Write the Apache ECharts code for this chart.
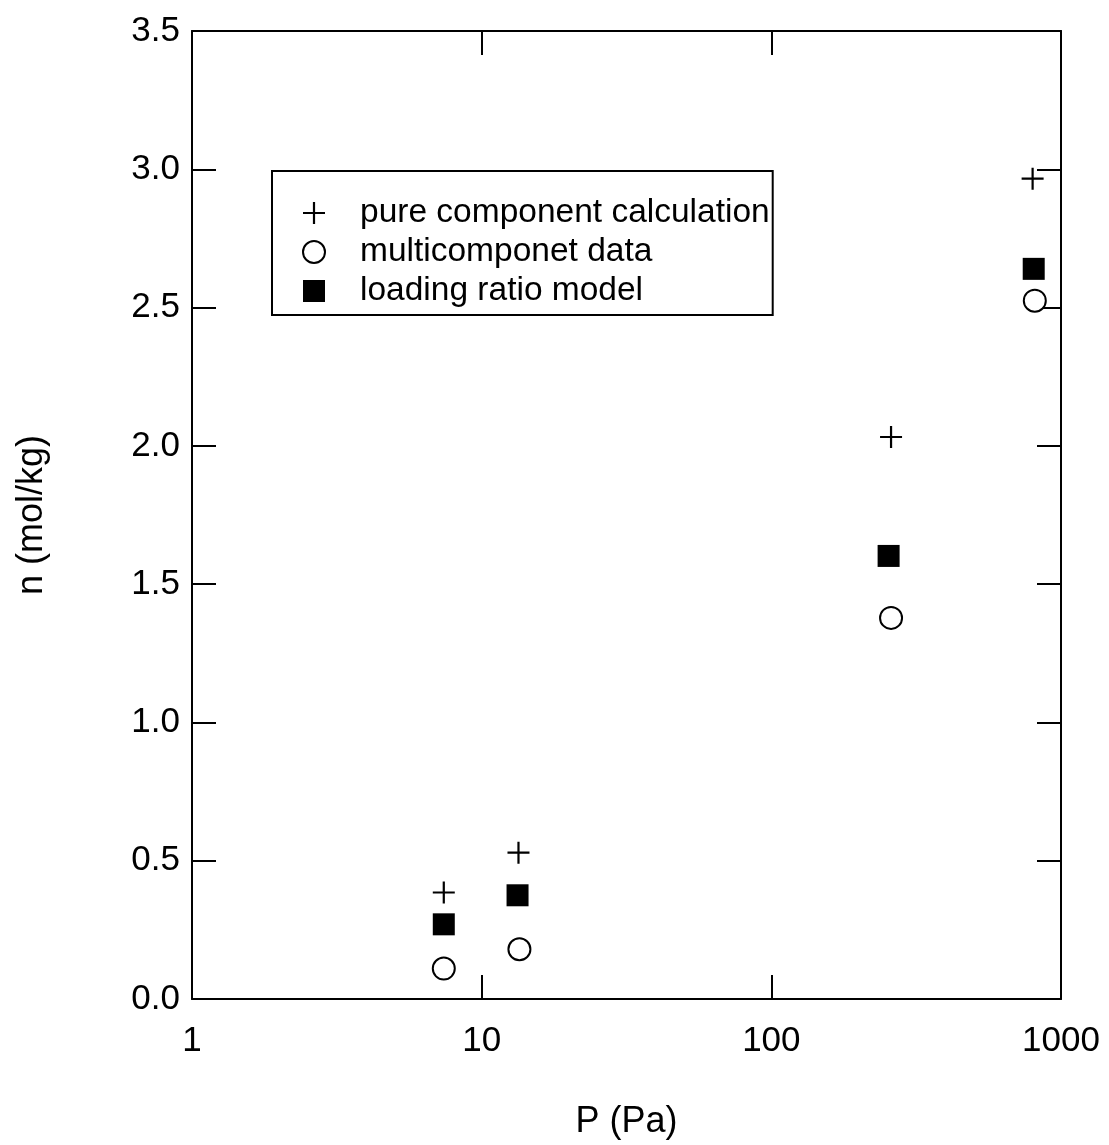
<!DOCTYPE html>
<html>
<head>
<meta charset="utf-8">
<script src="https://cdn.jsdelivr.net/npm/echarts@6/dist/echarts.min.js"></script>
<style>
html,body{margin:0;padding:0;background:#fff;}
#chart{width:1109px;height:1145px;}
</style>
</head>
<body>
<div id="chart"></div>
<script>
// Data
var seriesNames = ['pure component calculation', 'multicomponet data', 'loading ratio model'];
var pureP = [7.4, 13.4, 259, 798];
var pureN = [0.385, 0.529, 2.032, 2.966];
var multiP = [7.4, 13.5, 259, 812];
var multiN = [0.110, 0.180, 1.378, 2.525];
var modelP = [7.4, 13.3, 254, 805];
var modelN = [0.270, 0.375, 1.602, 2.640];
var xTicks = [1, 10, 100, 1000];
var yTicks = [0.0, 0.5, 1.0, 1.5, 2.0, 2.5, 3.0, 3.5];

function pairs(xs, ys) { return xs.map(function (x, i) { return [x, ys[i]]; }); }

var FONT = 'Liberation Sans, Arial, sans-serif';
var PLUS = 'path://M9,0 H11 V9 H20 V11 H11 V20 H9 V11 H0 V9 H9 Z';

function axisLine() { return { show: true, onZero: false, lineStyle: { color: '#000', width: 2 } }; }
function ticks(vals) {
  return { show: true, inside: true, length: 24, customValues: vals, lineStyle: { color: '#000', width: 2 } };
}

var chart = echarts.init(document.getElementById('chart'), null, { renderer: 'canvas' });
chart.setOption({
  backgroundColor: '#fff',
  animation: false,
  grid: { left: 192, right: 48, top: 31, bottom: 145, containLabel: false },
  legend: {
    left: 272, top: 171,
    orient: 'vertical',
    backgroundColor: '#fff',
    borderColor: '#000', borderWidth: 2, borderRadius: 0,
    padding: [25, 3, 7, 30],
    itemWidth: 22, itemHeight: 22, itemGap: 5,
    textStyle: { fontFamily: FONT, fontSize: 33.5, color: '#000', padding: [0, 0, 0, 30] },
    data: seriesNames
  },
  xAxis: [
    {
      type: 'log', logBase: 10, min: 1, max: 1000, position: 'bottom',
      name: 'P (Pa)', nameLocation: 'middle', nameGap: 105,
      nameTextStyle: { fontFamily: FONT, fontSize: 36, color: '#000' },
      axisLine: axisLine(),
      axisTick: ticks(xTicks),
      minorTick: { show: false },
      splitLine: { show: false },
      axisLabel: { fontFamily: FONT, fontSize: 35, color: '#000', margin: 25, customValues: xTicks,
        formatter: function (v) { return String(Math.round(v)); } }
    },
    {
      type: 'log', logBase: 10, min: 1, max: 1000, position: 'top',
      axisLine: axisLine(),
      axisTick: ticks(xTicks),
      minorTick: { show: false },
      splitLine: { show: false },
      axisLabel: { show: false }
    }
  ],
  yAxis: [
    {
      type: 'value', min: 0, max: 3.5, interval: 0.5, position: 'left',
      name: 'n (mol/kg)', nameLocation: 'middle', nameGap: 142, nameRotate: 90,
      nameTextStyle: { fontFamily: FONT, fontSize: 36, color: '#000' },
      axisLine: axisLine(),
      axisTick: ticks(yTicks),
      splitLine: { show: false },
      axisLabel: { fontFamily: FONT, fontSize: 35, color: '#000', margin: 12, customValues: yTicks,
        formatter: function (v) { return v.toFixed(1); } }
    },
    {
      type: 'value', min: 0, max: 3.5, interval: 0.5, position: 'right',
      axisLine: axisLine(),
      axisTick: ticks(yTicks),
      splitLine: { show: false },
      axisLabel: { show: false }
    }
  ],
  series: [
    {
      name: seriesNames[0], type: 'scatter', symbol: PLUS, symbolSize: 22,
      itemStyle: { color: '#000', opacity: 1 },
      data: pairs(pureP, pureN)
    },
    {
      name: seriesNames[1], type: 'scatter', symbol: 'circle', symbolSize: 22,
      itemStyle: { color: '#fff', borderColor: '#000', borderWidth: 2, opacity: 1 },
      data: pairs(multiP, multiN)
    },
    {
      name: seriesNames[2], type: 'scatter', symbol: 'rect', symbolSize: 22,
      itemStyle: { color: '#000', opacity: 1 },
      data: pairs(modelP, modelN)
    }
  ]
});
</script>
</body>
</html>
